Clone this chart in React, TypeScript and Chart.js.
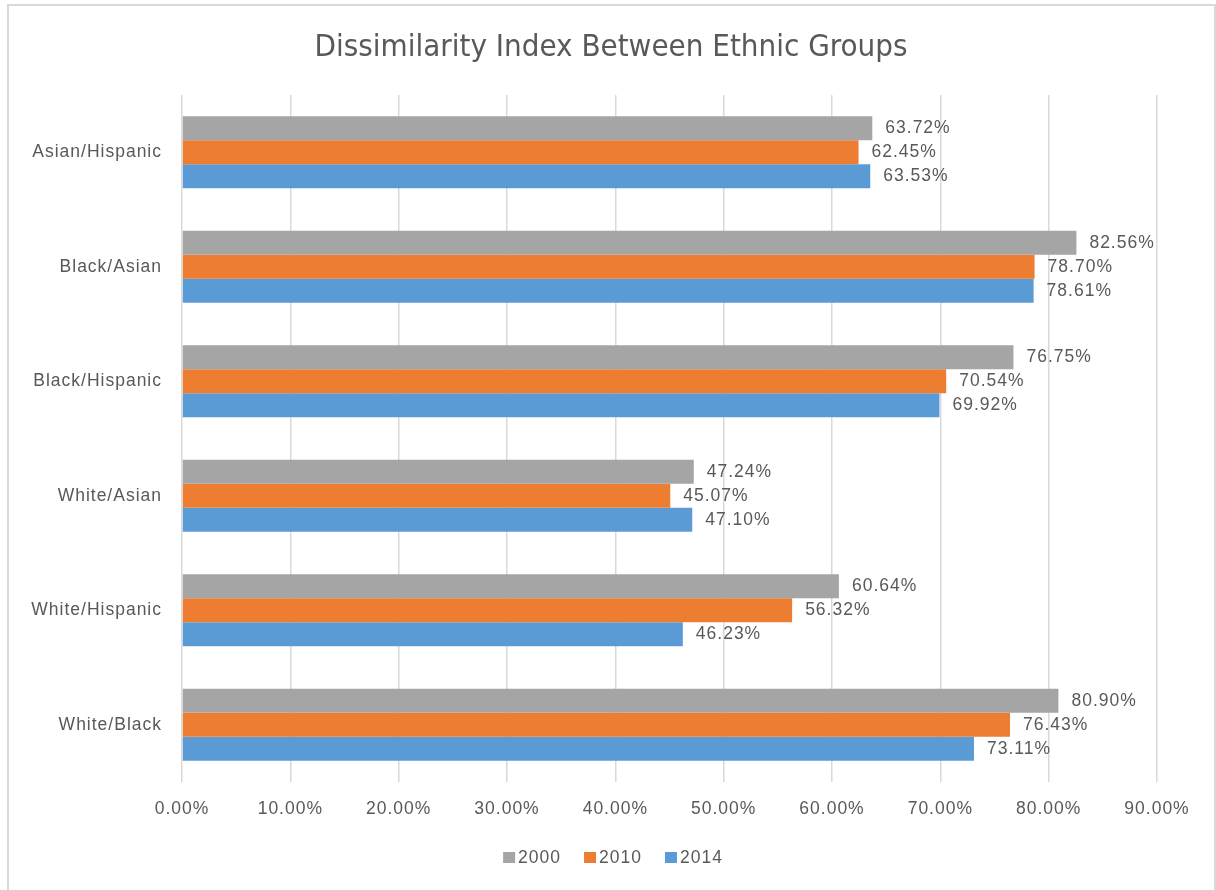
import React, { useEffect, useRef } from "react";
import { Chart, registerables } from "chart.js";

Chart.register(...registerables);

const categories = [
  "Asian/Hispanic",
  "Black/Asian",
  "Black/Hispanic",
  "White/Asian",
  "White/Hispanic",
  "White/Black",
];
const seriesNames = ["2000", "2010", "2014"];
const values2000 = [63.72, 82.56, 76.75, 47.24, 60.64, 80.9];
const values2010 = [62.45, 78.7, 70.54, 45.07, 56.32, 76.43];
const values2014 = [63.53, 78.61, 69.92, 47.1, 46.23, 73.11];
const seriesColors = ["#A5A5A5", "#ED7D31", "#5B9BD5"];
const xTicks = [0, 10, 20, 30, 40, 50, 60, 70, 80, 90];
const titleText = "Dissimilarity Index Between Ethnic Groups";

const FONT = "'Liberation Sans', Arial, sans-serif";
const TEXT = "#595959";
const SPACING = "1px";

const spacingPlugin = {
  id: "spacing",
  beforeLayout(chart: any) {
    chart.ctx.letterSpacing = SPACING;
  },
  beforeDraw(chart: any) {
    chart.ctx.letterSpacing = SPACING;
  },
};

const labelPlugin = {
  id: "barLabels",
  afterDatasetsDraw(chart: any) {
    const ctx = chart.ctx;
    ctx.save();
    ctx.letterSpacing = SPACING;
    ctx.font = `17.5px ${FONT}`;
    ctx.fillStyle = TEXT;
    ctx.textAlign = "left";
    ctx.textBaseline = "middle";
    chart.data.datasets.forEach((ds: any, i: number) => {
      const meta = chart.getDatasetMeta(i);
      meta.data.forEach((bar: any, j: number) => {
        ctx.fillText(ds.data[j].toFixed(2) + "%", bar.x + 13, bar.y);
      });
    });
    ctx.restore();
  },
};

const decorPlugin = {
  id: "decor",
  beforeDraw(chart: any) {
    const ctx = chart.ctx;
    ctx.save();
    ctx.fillStyle = "#ffffff";
    ctx.fillRect(0, 0, chart.width, chart.height);
    ctx.strokeStyle = "#d9d9d9";
    ctx.lineWidth = 2;
    ctx.beginPath();
    ctx.moveTo(8, 900);
    ctx.lineTo(8, 5);
    ctx.lineTo(1215, 5);
    ctx.lineTo(1215, 900);
    ctx.stroke();
    ctx.restore();
  },
  afterDraw(chart: any) {
    const ctx = chart.ctx;
    ctx.save();
    // title
    ctx.letterSpacing = "0px";
    ctx.font = `31px 'DejaVu Sans Condensed', 'Liberation Sans Narrow', ${FONT}`;
    ctx.fillStyle = TEXT;
    ctx.textAlign = "center";
    ctx.textBaseline = "alphabetic";
    ctx.fillText(titleText, 611, 56);
    // legend
    ctx.letterSpacing = SPACING;
    ctx.font = `17.5px ${FONT}`;
    ctx.textAlign = "left";
    ctx.textBaseline = "middle";
    const box = 12;
    const gap = 3;
    const itemGap = 23;
    const widths = seriesNames.map((n) => ctx.measureText(n).width);
    const total = widths.reduce((a, w) => a + box + gap + w, 0) + itemGap * (seriesNames.length - 1);
    let x = 613 - total / 2;
    const cy = 858;
    seriesNames.forEach((n, i) => {
      ctx.fillStyle = seriesColors[i];
      ctx.fillRect(x, cy - 6, box, 11);
      ctx.fillStyle = TEXT;
      ctx.fillText(n, x + box + gap, cy);
      x += box + gap + widths[i] + itemGap;
    });
    ctx.restore();
  },
};

export default function App() {
  const ref = useRef<HTMLCanvasElement>(null);
  useEffect(() => {
    if (!ref.current) return;
    const chart = new Chart(ref.current, {
      type: "bar",
      data: {
        labels: categories,
        datasets: [
          { label: seriesNames[0], data: values2000, backgroundColor: seriesColors[0] },
          { label: seriesNames[1], data: values2010, backgroundColor: seriesColors[1] },
          { label: seriesNames[2], data: values2014, backgroundColor: seriesColors[2] },
        ],
      },
      options: {
        indexAxis: "y",
        responsive: false,
        animation: false,
        devicePixelRatio: 1,
        datasets: { bar: { barPercentage: 1, categoryPercentage: 0.628 } },
        layout: { padding: { left: 7, right: 0, top: 95, bottom: 52 } },
        scales: {
          x: {
            min: 0,
            max: 90,
            afterBuildTicks(scale: any) {
              scale.ticks = xTicks.map((v) => ({ value: v }));
            },
            afterFit(scale: any) {
              scale.height = 56;
            },
            grid: { color: "#d9d9d9", lineWidth: 1.5, drawTicks: false },
            border: { display: false },
            ticks: {
              padding: 17,
              color: TEXT,
              font: { size: 17.5, family: FONT },
              callback: (v: any) => Number(v).toFixed(2) + "%",
              maxRotation: 0,
            },
          },
          y: {
            afterFit(scale: any) {
              scale.width = 175;
            },
            grid: { display: false, drawTicks: false },
            border: { display: false },
            ticks: {
              padding: 20,
              color: TEXT,
              font: { size: 17.5, family: FONT },
            },
          },
          y2: {
            type: "linear",
            position: "right",
            display: true,
            afterFit(scale: any) {
              scale.width = 59;
            },
            grid: { display: false, drawTicks: false },
            border: { display: false },
            ticks: { display: false },
          },
        },
        plugins: {
          title: { display: false },
          legend: { display: false },
          tooltip: { enabled: false },
        },
      },
      plugins: [spacingPlugin, labelPlugin, decorPlugin],
    } as any);
    return () => chart.destroy();
  }, []);
  return (
    <div style={{ position: "absolute", left: 0, top: 0, width: 1216, height: 890 }}>
      <canvas ref={ref} width={1216} height={890} />
    </div>
  );
}
